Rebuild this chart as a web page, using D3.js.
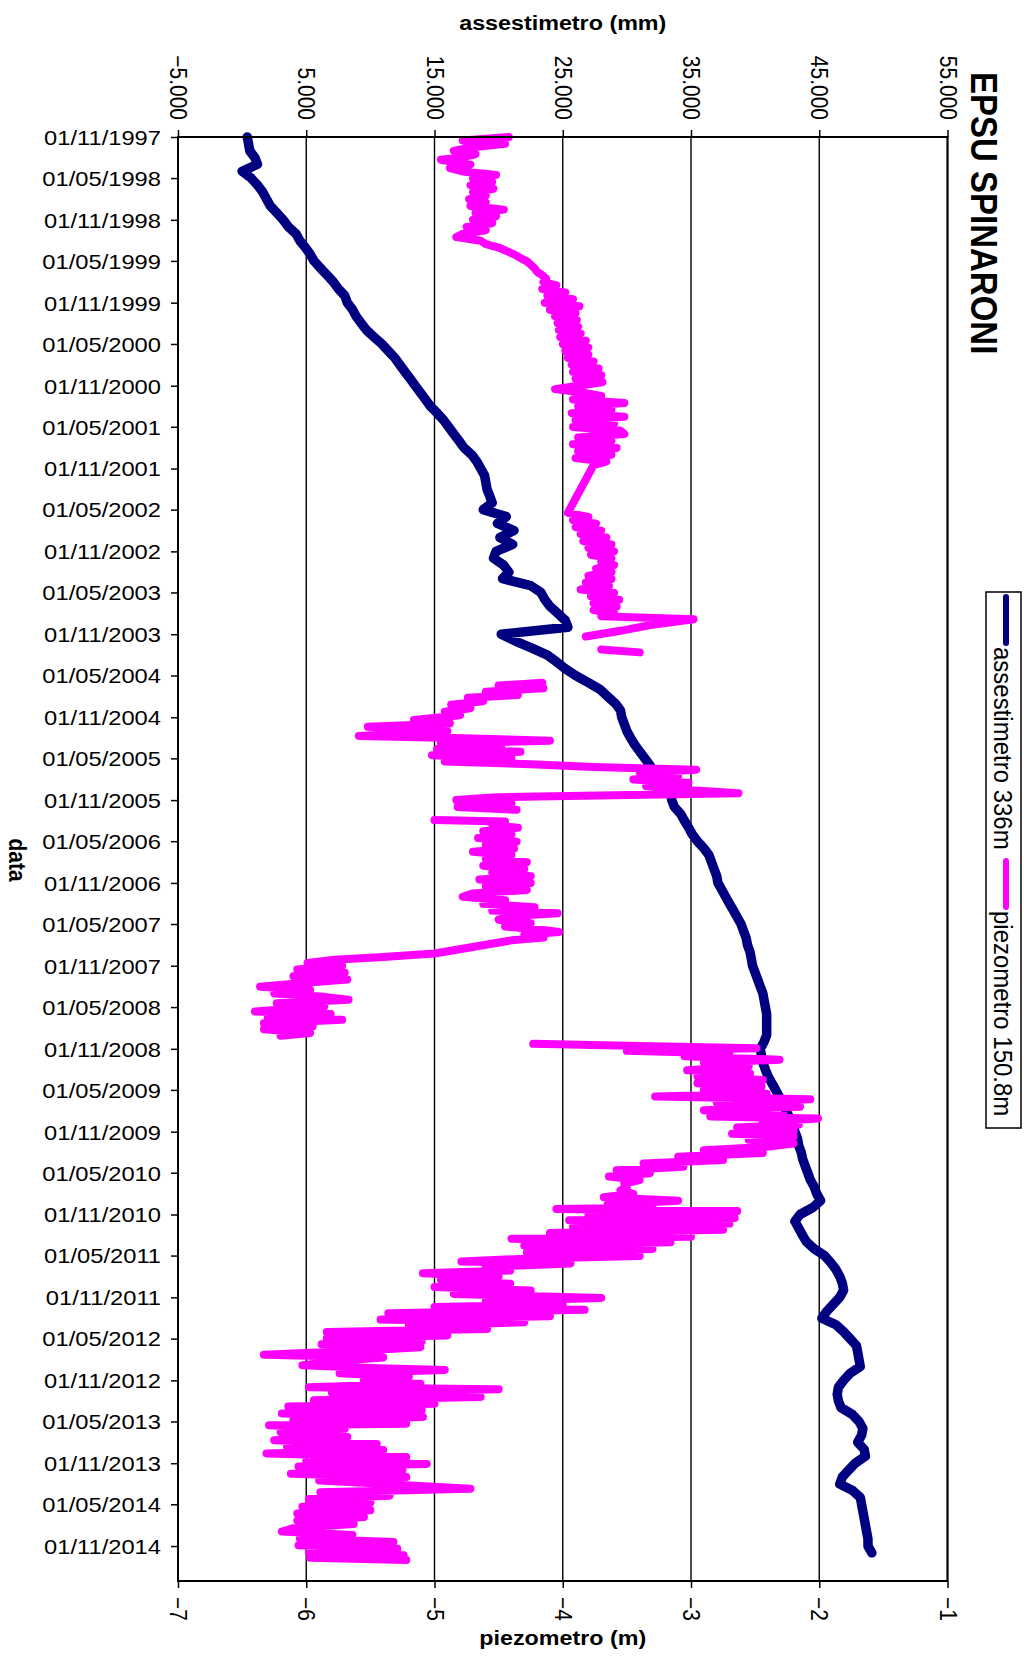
<!DOCTYPE html>
<html lang="it">
  <head>
    <meta charset="utf-8" />
    <title>EPSU SPINARONI</title>
    <script src="https://d3js.org/d3.v7.min.js"></script>
    <style>
      body { margin: 0; background: #fff; }
      text { font-family: "Liberation Sans", Arial, sans-serif; }
    </style>
  </head>
  <body>
    <div id="chart"></div>
    <script>
      // data di partenza: 01/11/1997, mesi trascorsi come ascissa
      var inizio = new Date(1997, 10, 1);
      var fine = new Date(2015, 3, 4);

      // assestimetro 336m (mm), un valore al mese dal 01/11/1997
      var assestimetro = [
        0.4, 0.5, 0.6, 1.0, 1.2, 0.0, 0.7, 1.2, 1.6, 1.9,
        2.2, 2.7, 3.2, 3.6, 4.2, 4.5, 4.9, 5.3, 5.6, 6.1,
        6.6, 7.1, 7.5, 8.0, 8.2, 8.6, 8.9, 9.3, 9.7, 10.3,
        10.9, 11.4, 11.9, 12.3, 12.7, 13.1, 13.5, 13.9, 14.3, 14.7,
        15.2, 15.7, 16.1, 16.5, 16.9, 17.3, 17.9, 18.3, 18.6, 18.9,
        19.0, 19.1, 19.3, 19.5, 18.8, 20.6, 19.9, 21.2, 20.1, 21.1,
        19.8, 19.6, 20.4, 20.8, 20.3, 22.5, 23.3, 23.6, 24.0, 24.6,
        25.2, 25.4, 20.2, 21.3, 22.6, 23.8, 24.5, 25.2, 26.0, 27.0,
        27.9, 28.5, 29.1, 29.5, 29.6, 29.8, 30.0, 30.3, 30.6, 31.0,
        31.4, 31.8, 32.1, 32.4, 33.0, 33.4, 33.5, 33.7, 34.2, 34.5,
        34.8, 35.1, 35.5, 36.0, 36.4, 36.6, 36.8, 37.0, 37.1, 37.4,
        37.7, 38.0, 38.3, 38.6, 38.9, 39.1, 39.3, 39.4, 39.6, 39.7,
        39.8, 40.0, 40.2, 40.4, 40.6, 40.7, 40.8, 40.9, 40.9, 40.9,
        40.9, 40.7, 40.4, 40.5, 40.6, 40.8, 41.0, 41.3, 41.6, 41.9,
        42.2, 42.4, 42.7, 42.9, 43.1, 43.3, 43.4, 43.6, 43.7, 43.9,
        44.1, 44.3, 44.6, 44.8, 45.1, 44.5, 43.5, 43.1, 43.4, 43.7,
        44.0, 44.6, 45.4, 45.9, 46.3, 46.6, 46.8, 46.9, 46.6, 46.1,
        45.6, 45.2, 46.3, 46.9, 47.4, 47.9, 48.0, 48.1, 48.2, 47.4,
        46.9, 46.5, 46.4, 46.5, 46.7, 47.6, 48.1, 48.4, 48.3, 48.0,
        48.5, 48.6, 47.8, 47.3, 46.8, 46.6, 47.6, 48.2, 48.3, 48.4,
        48.5, 48.6, 48.7, 48.8, 48.8, 49.1
      ];

      // piezometro 150.8m (m): [mesi dal 01/11/1997, livello], tratti separati dove mancano letture
      var piezo1 = [
        [0, -4.42], [0.5, -4.78], [1, -4.45], [1.5, -4.72], [2, -4.85], [2.5, -4.68], [3, -4.8], [3.3, -4.95],
        [4, -4.72], [4.5, -4.88], [5, -4.78], [5.5, -4.52], [6, -4.7], [6.5, -4.55], [7, -4.72], [7.5, -4.54],
        [8, -4.7], [8.5, -4.6], [9, -4.73], [9.5, -4.6], [10, -4.72], [10.5, -4.46], [11, -4.68], [11.5, -4.52],
        [12, -4.7], [12.5, -4.55], [13, -4.75], [13.5, -4.6], [14, -4.78], [14.5, -4.83], [15, -4.64], [15.5, -4.6],
        [16, -4.5], [16.5, -4.44], [17, -4.38], [17.5, -4.33], [18, -4.28], [18.5, -4.25], [19, -4.22], [19.5, -4.2],
        [20, -4.16], [20.5, -4.13], [21, -4.15], [21.5, -4.05], [22, -4.16], [22.5, -3.98], [23, -4.12], [23.5, -3.92],
        [24, -4.14], [24.5, -3.87], [25, -4.1], [25.5, -3.9], [26, -4.06], [26.5, -3.89], [27, -4.04], [27.5, -3.88],
        [28, -4.03], [28.5, -3.86], [29, -4.02], [29.5, -3.82], [30, -4.0], [30.5, -3.8], [31, -3.98], [31.5, -3.8],
        [32, -3.96], [32.5, -3.76], [33, -3.93], [33.5, -3.72], [34, -3.92], [34.5, -3.7], [35, -3.9], [35.5, -3.69],
        [36, -3.88], [36.5, -4.06], [37, -3.85], [37.5, -3.7], [38, -3.92], [38.5, -3.52], [39, -3.88], [39.5, -3.62],
        [40, -3.93], [40.5, -3.52], [41, -3.9], [41.5, -3.6], [42, -3.92], [42.5, -3.55], [43, -3.52], [43.5, -3.88],
        [44, -3.62], [44.5, -3.92], [45, -3.58], [45.5, -3.88], [46, -3.62], [46.5, -3.9], [47, -3.66], [47.5, -3.76],
        [54.4, -3.96], [55, -3.8], [55.5, -3.92], [56, -3.74], [56.5, -3.9], [57, -3.7], [57.5, -3.86], [58, -3.66],
        [58.5, -3.84], [59, -3.62], [59.5, -3.8], [60, -3.6], [60.5, -3.78], [61, -3.62], [61.5, -3.7], [62, -3.6],
        [62.5, -3.74], [63, -3.62], [63.5, -3.8], [64, -3.62], [64.5, -3.82], [65, -3.64], [65.5, -3.86], [66, -3.6],
        [66.5, -3.78], [67, -3.56], [67.5, -3.76], [68, -3.58], [68.5, -3.76], [69, -3.6], [69.4, -3.7], [69.8, -2.98],
        [70.6, -3.3], [71.5, -3.55], [72.3, -3.82]
      ];
      var piezo2 = [[74.2, -3.7], [74.6, -3.4]];
      var piezo3 = [
        [79, -4.16], [79.4, -4.5], [79.8, -4.15], [80.3, -4.6], [80.8, -4.35], [81.2, -4.74], [81.7, -4.62], [82.2, -4.87],
        [82.7, -4.72], [83.2, -4.92], [83.7, -4.8], [84.4, -5.16], [84.9, -4.88], [85.4, -5.52], [86, -4.9], [86.7, -5.59],
        [87, -4.85], [87.4, -4.1], [87.8, -4.95], [88.3, -4.48], [88.6, -4.98], [89, -4.33], [89.5, -5.02], [90, -4.4],
        [90.4, -4.92], [90.8, -4.25], [91.2, -3.76], [91.6, -2.96], [92, -3.4], [92.5, -3.1], [93, -3.45], [93.5, -3.02],
        [94, -3.35], [94.6, -3.0], [95, -2.63], [95.3, -3.6], [95.6, -4.55], [96, -4.83], [96.5, -4.4], [97, -4.82],
        [97.4, -4.36]
      ];
      var piezo4 = [
        [98.9, -5.0], [99.1, -4.45], [99.6, -4.55], [100, -4.35], [100.5, -4.62], [101, -4.4], [101.5, -4.66], [102, -4.36],
        [102.5, -4.6], [103, -4.38], [103.5, -4.7], [104, -4.4], [104.5, -4.6], [105, -4.28], [105.5, -4.62], [106, -4.3],
        [106.5, -4.55], [107, -4.25], [107.5, -4.65], [108, -4.25], [108.5, -4.6], [109, -4.28], [109.5, -4.7], [110, -4.78],
        [110.5, -4.45], [111, -4.62], [111.5, -4.22], [112, -4.55], [112.4, -4.04], [112.8, -4.4], [113.3, -4.5], [113.8, -4.25],
        [114.3, -4.45], [114.8, -4.15], [115.1, -4.03], [115.5, -4.3], [115.9, -4.15], [116.3, -4.4], [117.2, -4.68], [118.2, -5.0],
        [118.7, -5.4], [119.1, -5.78], [119.6, -5.99], [120, -5.72], [120.5, -6.07], [121, -5.7], [121.5, -6.1], [122, -5.68],
        [122.5, -6.05], [123, -6.36], [123.5, -5.97], [124, -6.25], [124.5, -5.86], [124.9, -5.67], [125.4, -6.23], [125.9, -5.86],
        [126.3, -6.17], [126.6, -6.4], [127, -5.81], [127.5, -6.3], [127.8, -5.72], [128.3, -6.33], [128.8, -5.95], [129.2, -6.33],
        [129.7, -5.97], [130.1, -6.2]
      ];
      var piezo5 = [
        [131.3, -4.23], [131.6, -3.4], [131.9, -2.49], [132.3, -3.5], [132.7, -2.7], [133.1, -3.05], [133.6, -2.31], [134, -2.9],
        [134.5, -2.55], [135.1, -3.03], [135.6, -2.54], [136, -2.95], [136.5, -2.44], [137, -2.95], [137.5, -2.45], [138, -2.9],
        [138.5, -2.41], [138.9, -3.28], [139.3, -2.07], [139.8, -2.8], [140.4, -2.15], [140.9, -2.9], [141.4, -2.28], [141.8, -2.85],
        [142.1, -2.01], [142.6, -2.44], [143, -2.16], [143.4, -2.64], [143.9, -2.2], [144.3, -2.68], [144.7, -2.2], [145.2, -2.55],
        [145.7, -2.2], [146.2, -2.41], [146.7, -2.9], [147.1, -2.44], [147.6, -3.1], [148.1, -2.75], [148.6, -3.37], [149.1, -3.06],
        [149.6, -3.58], [150, -3.32], [150.5, -3.64], [151, -3.4], [151.5, -3.52], [152, -3.5], [152.5, -3.55], [153, -3.45],
        [153.5, -3.68], [154, -3.1], [154.5, -3.65], [155, -3.3], [155.2, -4.05], [155.5, -2.64], [156, -3.8], [156.5, -2.66],
        [156.8, -3.95], [157.3, -2.7], [157.8, -3.92], [158.2, -2.75], [158.7, -4.1], [159.2, -3.0], [159.5, -4.4], [160, -3.16],
        [160.5, -4.3], [161, -3.3], [161.5, -4.28], [162, -3.4], [162.4, -4.3], [162.8, -4.79], [163.1, -3.94], [163.6, -4.6],
        [164.1, -4.41], [164.5, -5.09], [165, -4.5], [165.5, -4.95], [166, -4.41], [166.5, -5.0], [167, -4.25], [167.5, -4.85],
        [168.1, -3.7], [168.5, -4.6], [169, -4.0], [169.4, -5.0], [169.8, -3.83], [170.3, -5.36], [170.7, -4.1], [171.2, -5.42],
        [171.6, -4.3], [172.1, -5.2], [172.6, -4.59], [173, -5.84], [173.5, -4.9], [173.9, -5.84], [174.4, -5.1], [174.8, -5.88],
        [175.2, -5.11], [175.7, -5.6], [176.3, -6.33], [176.7, -5.4], [177.2, -5.75], [177.8, -6.03], [178.2, -5.5], [178.5, -4.92],
        [179, -5.74], [179.5, -5.2], [180, -5.55], [180.5, -5.11], [181, -5.98], [181.3, -4.5], [181.8, -5.8], [182.4, -4.64],
        [182.9, -5.94], [183.4, -5.0], [183.8, -6.14], [184.3, -5.1], [184.8, -6.19], [185.3, -5.09], [185.8, -6.1], [186.3, -5.22],
        [186.5, -6.29], [187, -5.7], [187.5, -6.2], [188.2, -5.68], [188.7, -6.25], [189.2, -5.45], [189.6, -6.15], [190.1, -5.4],
        [190.6, -6.31], [191.1, -5.22], [191.6, -6.0], [192.1, -5.06], [192.5, -6.06], [193, -5.25], [193.5, -6.12], [194, -5.22],
        [194.5, -5.9], [195, -5.4], [195.7, -4.72], [196.2, -5.89], [196.7, -5.35], [197.2, -5.98], [197.7, -5.5], [198.3, -6.03],
        [198.8, -5.5], [199.3, -6.07], [199.8, -5.55], [200.3, -6.07], [200.8, -5.63], [201.4, -6.1], [201.9, -6.19], [202.4, -5.64],
        [202.9, -6.05], [203.4, -5.32], [203.9, -6.06], [204.4, -5.29], [204.9, -5.98], [205.3, -5.24], [205.7, -5.97], [206, -5.22]
      ];
      var tratti = [piezo1, piezo2, piezo3, piezo4, piezo5];

      var tickAssest = [-5, 5, 15, 25, 35, 45, 55];
      var tickPiezo = [-7, -6, -5, -4, -3, -2, -1];
      var tickDate = d3.timeMonth.range(inizio, new Date(2015, 0, 1), 6);

      var W = 1024, H = 1657;
      var pLeft = 178, pRight = 947.5, pTop = 137, pBottom = 1581;
      var SX = 1.11; // testo leggermente allargato come nell'originale
      var font = 21;

      function mese(m) {
        return d3.timeDay.offset(inizio, Math.round(m * 30.437));
      }

      var svg = d3.select("#chart").append("svg")
        .attr("width", W).attr("height", H)
        .style("background", "#fff");

      var xA = d3.scaleLinear().domain([-5, 55]).range([pLeft, pRight]);
      var xP = d3.scaleLinear().domain([-7, -1]).range([pLeft, pRight]);
      var y = d3.scaleTime().domain([inizio, fine]).range([pTop, pBottom]);

      // griglia verticale
      svg.append("g").selectAll("line").data(tickAssest).enter().append("line")
        .attr("x1", d => xA(d)).attr("x2", d => xA(d))
        .attr("y1", pTop).attr("y2", pBottom)
        .attr("stroke", "#000").attr("stroke-width", 1.4);

      // serie
      var lineaA = d3.line()
        .x(d => xA(d))
        .y((d, i) => y(d3.timeMonth.offset(inizio, i)));
      svg.append("path").datum(assestimetro)
        .attr("d", lineaA)
        .attr("fill", "none").attr("stroke", "#000080")
        .attr("stroke-width", 9.5).attr("stroke-linejoin", "round").attr("stroke-linecap", "round");

      var lineaP = d3.line()
        .x(d => xP(d[1]))
        .y(d => y(mese(d[0])));
      svg.append("g").selectAll("path").data(tratti).enter().append("path")
        .attr("d", lineaP)
        .attr("fill", "none").attr("stroke", "#ff00ff")
        .attr("stroke-width", 8).attr("stroke-linejoin", "round").attr("stroke-linecap", "round");

      // cornice area del grafico
      svg.append("rect")
        .attr("x", pLeft).attr("y", pTop)
        .attr("width", pRight - pLeft).attr("height", pBottom - pTop)
        .attr("fill", "none").attr("stroke", "#000").attr("stroke-width", 2);

      // asse date (sinistra)
      var gy = svg.append("g").attr("transform", "translate(" + pLeft + ",0)")
        .call(d3.axisLeft(y).tickValues(tickDate).tickFormat(d3.timeFormat("%d/%m/%Y")).tickSize(7));
      gy.select(".domain").remove();
      gy.selectAll("line").attr("stroke", "#000").attr("stroke-width", 1.5);
      gy.selectAll("text")
        .attr("x", -17 / 1.13).attr("dy", "0.35em")
        .attr("transform", "scale(1.13,1)")
        .attr("font-size", font).attr("fill", "#000")
        .style("font-family", '"Liberation Sans", Arial, sans-serif');

      // asse assestimetro (alto)
      var gt = svg.append("g").attr("transform", "translate(0," + pTop + ")")
        .call(d3.axisTop(xA).tickValues(tickAssest).tickFormat(d3.format(".3f")).tickSize(7));
      gt.select(".domain").remove();
      gt.selectAll("line").attr("stroke", "#000").attr("stroke-width", 1.5);
      gt.selectAll("text")
        .attr("x", -17).attr("y", 7.5).attr("dy", 0)
        .attr("transform", "scale(" + SX + ",1) rotate(90)")
        .style("text-anchor", "end")
        .attr("font-size", font).attr("fill", "#000")
        .style("font-family", '"Liberation Sans", Arial, sans-serif');

      // asse piezometro (basso)
      var gb = svg.append("g").attr("transform", "translate(0," + pBottom + ")")
        .call(d3.axisBottom(xP).tickValues(tickPiezo).tickFormat(d3.format("d")).tickSize(7));
      gb.select(".domain").remove();
      gb.selectAll("line").attr("stroke", "#000").attr("stroke-width", 1.5);
      gb.selectAll("text")
        .attr("x", 16).attr("y", 7.5).attr("dy", 0)
        .attr("transform", "scale(" + SX + ",1) rotate(90)")
        .style("text-anchor", "start")
        .attr("font-size", font).attr("fill", "#000")
        .style("font-family", '"Liberation Sans", Arial, sans-serif');

      // testi
      function testo(x, y0, rot, s, size, bold, anchor) {
        svg.append("text")
          .attr("transform", "translate(" + x + "," + y0 + ") scale(" + SX + ",1) rotate(" + rot + ")")
          .attr("font-size", size)
          .attr("font-weight", bold ? "bold" : "normal")
          .style("text-anchor", anchor)
          .text(s);
      }
      testo((pLeft + pRight) / 2, 30, 0, "assestimetro (mm)", font, true, "middle");
      testo((pLeft + pRight) / 2, 1645, 0, "piezometro (m)", font, true, "middle");
      testo(9, 860, 90, "data", font, true, "middle");
      testo(971, 72, 90, "EPSU SPINARONI", 33, true, "start");

      // legenda
      var leg = svg.append("g");
      leg.append("rect")
        .attr("x", 986).attr("y", 592).attr("width", 35).attr("height", 536)
        .attr("fill", "#fff").attr("stroke", "#000").attr("stroke-width", 1.5);
      var voci = [
        { nome: "assestimetro 336m", colore: "#000080", y0: 597 },
        { nome: "piezometro 150.8m", colore: "#ff00ff", y0: 861 }
      ];
      voci.forEach(function (v) {
        leg.append("line")
          .attr("x1", 1006).attr("x2", 1006)
          .attr("y1", v.y0).attr("y2", v.y0 + 46)
          .attr("stroke", v.colore).attr("stroke-width", 6).attr("stroke-linecap", "round");
        testo(994, v.y0 + 50, 90, v.nome, 24, false, "start");
      });
    </script>
  </body>
</html>
